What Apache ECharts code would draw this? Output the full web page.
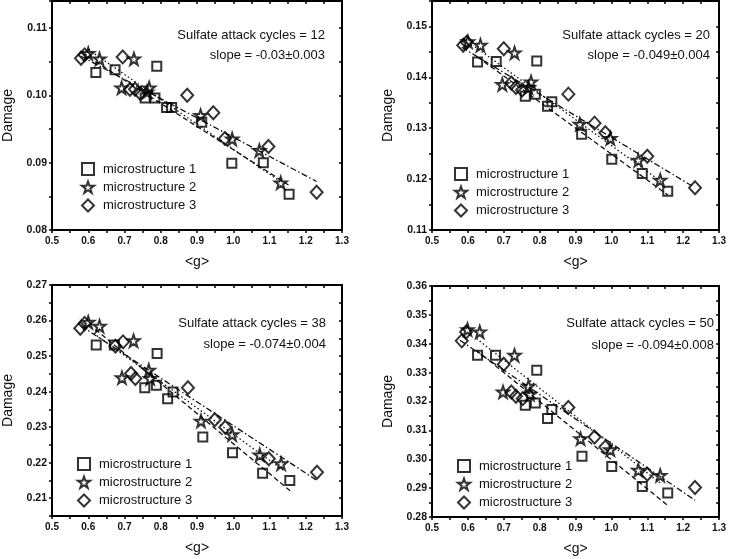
<!DOCTYPE html>
<html><head><meta charset="utf-8">
<script src="https://cdn.jsdelivr.net/npm/echarts@6/dist/echarts.min.js"></script>
<style>html,body{margin:0;padding:0;background:#fff}#c{width:729px;height:559px}</style>
</head><body><div id="c"></div>
<script>
// ---------- data ----------
const cycles = [12, 20, 38, 50];
const slopeTexts = ['-0.03\u00b10.003', '-0.049\u00b10.004', '-0.074\u00b10.004', '-0.094\u00b10.008'];
const seriesNames = ['microstructure 1', 'microstructure 2', 'microstructure 3'];
const xMin = 0.5, xMax = 1.3;
const yMins = [0.08, 0.11, 0.205, 0.28];
const yMaxs = [0.114, 0.155, 0.27, 0.36];

const p1_ms1 = [[0.621,0.1034],[0.674,0.1038],[0.789,0.1043],[0.757,0.0996],[0.784,0.0996],[0.816,0.0982],[0.830,0.0982],[0.913,0.0960],[0.996,0.0899],[1.083,0.0900],[1.154,0.0853]];
const p1_ms2 = [[0.600,0.1062],[0.631,0.1054],[0.726,0.1054],[0.692,0.1011],[0.768,0.1011],[0.762,0.1005],[0.910,0.0970],[0.997,0.0935],[1.072,0.0918],[1.131,0.0870]];
const p1_ms3 = [[0.580,0.1055],[0.590,0.1060],[0.695,0.1057],[0.715,0.1009],[0.729,0.1009],[0.743,0.1003],[0.873,0.1000],[0.945,0.0974],[0.977,0.0936],[1.097,0.0924],[1.230,0.0856]];
const p1_fit1 = [[0.62,0.1050],[1.155,0.0866]];
const p1_fit2 = [[0.60,0.1068],[1.13,0.0872]];
const p1_fit3 = [[0.58,0.1058],[1.23,0.0872]];

const p2_ms1 = [[0.627,0.1430],[0.679,0.1431],[0.792,0.1432],[0.760,0.1363],[0.788,0.1367],[0.822,0.1343],[0.834,0.1352],[0.917,0.1288],[1.001,0.1239],[1.086,0.1211],[1.157,0.1176]];
const p2_ms2 = [[0.600,0.1470],[0.635,0.1463],[0.730,0.1448],[0.696,0.1386],[0.776,0.1391],[0.769,0.1380],[0.912,0.1308],[0.997,0.1280],[1.075,0.1237],[1.136,0.1198]];
const p2_ms3 = [[0.587,0.1463],[0.597,0.1469],[0.700,0.1456],[0.721,0.1389],[0.734,0.1380],[0.751,0.1375],[0.880,0.1367],[0.953,0.1310],[0.983,0.1291],[1.100,0.1245],[1.233,0.1183]];
const p2_fit1 = [[0.627,0.1440],[1.157,0.1169]];
const p2_fit2 = [[0.62,0.1460],[1.139,0.1195]];
const p2_fit3 = [[0.583,0.1459],[1.226,0.1186]];

const p3_ms1 = [[0.622,0.2531],[0.672,0.2531],[0.790,0.2507],[0.756,0.2411],[0.788,0.2418],[0.819,0.2380],[0.834,0.2399],[0.916,0.2272],[0.998,0.2228],[1.081,0.2170],[1.156,0.2150]];
const p3_ms2 = [[0.600,0.2595],[0.631,0.2584],[0.725,0.2543],[0.693,0.2439],[0.767,0.2460],[0.771,0.2437],[0.911,0.2317],[0.997,0.2279],[1.073,0.2222],[1.132,0.2197]];
const p3_ms3 = [[0.578,0.2578],[0.590,0.2592],[0.675,0.2528],[0.696,0.2540],[0.718,0.2451],[0.730,0.2437],[0.875,0.2411],[0.949,0.2321],[0.978,0.2300],[1.098,0.2211],[1.231,0.2173]];
const p3_fit1 = [[0.62,0.2575],[1.157,0.2121]];
const p3_fit2 = [[0.615,0.2564],[1.139,0.2178]];
const p3_fit3 = [[0.58,0.2585],[1.231,0.2150]];

const p4_ms1 = [[0.627,0.3360],[0.677,0.3360],[0.792,0.3308],[0.760,0.3187],[0.788,0.3195],[0.822,0.3141],[0.834,0.3172],[0.918,0.3010],[1.001,0.2975],[1.086,0.2906],[1.157,0.2883]];
const p4_ms2 = [[0.599,0.3449],[0.633,0.3441],[0.730,0.3360],[0.698,0.3233],[0.769,0.3253],[0.773,0.3225],[0.914,0.3071],[0.997,0.3033],[1.075,0.2962],[1.136,0.2944]];
const p4_ms3 = [[0.583,0.3410],[0.595,0.3441],[0.700,0.3329],[0.721,0.3233],[0.734,0.3218],[0.753,0.3210],[0.880,0.3179],[0.953,0.3077],[0.983,0.3042],[1.100,0.2948],[1.233,0.2902]];
const p4_fit1 = [[0.624,0.3377],[1.157,0.2840]];
const p4_fit2 = [[0.624,0.3418],[1.139,0.2915]];
const p4_fit3 = [[0.578,0.3412],[1.233,0.2858]];

// ---------- layout / style ----------
const panelData = [
  [p1_ms1, p1_ms2, p1_ms3, p1_fit1, p1_fit2, p1_fit3],
  [p2_ms1, p2_ms2, p2_ms3, p2_fit1, p2_fit2, p2_fit3],
  [p3_ms1, p3_ms2, p3_ms3, p3_fit1, p3_fit2, p3_fit3],
  [p4_ms1, p4_ms2, p4_ms3, p4_fit1, p4_fit2, p4_fit3]
];
const grids = [
  {left: 52, top: 1, width: 290, height: 229},
  {left: 432, top: 1, width: 290, height: 229},
  {left: 52, top: 285, width: 290, height: 231},
  {left: 432, top: 286, width: 290, height: 231}
];
const annot = [
  {x: 325, y1: 35, y2: 55},
  {x: 710, y1: 35, y2: 55},
  {x: 326, y1: 323, y2: 344},
  {x: 714, y1: 323, y2: 345}
];
const legendPos = [
  {left: 81, top: 162},
  {left: 454, top: 167},
  {left: 77, top: 457},
  {left: 457, top: 459}
];
const FONT = 'Liberation Sans, Arial, sans-serif';
const STAR = 'path://M50,2 L61.5,36 L97,36 L68.5,57.5 L79,92 L50,71 L21,92 L31.5,57.5 L3,36 L38.5,36 Z';
const symbols = [
  {symbol: 'rect', symbolSize: 9},
  {symbol: STAR, symbolSize: 12},
  {symbol: 'diamond', symbolSize: [12, 13]}
];
const dashes = [[5, 3], [1.5, 2.5], [6, 2.5, 1.5, 2.5]];

const yFmt = v => { const r = Math.round(v * 100); return Math.abs(v * 100 - r) < 1e-6 ? (r / 100).toFixed(2) : ''; };
const xFmt = v => { const r = Math.round(v * 10); return Math.abs(v * 10 - r) < 1e-6 ? (r / 10).toFixed(1) : ''; };

const axisLine = {show: true, onZero: false, lineStyle: {color: '#000', width: 2}};
const labelStyle = {color: '#111', fontFamily: FONT, fontWeight: 'bold', fontSize: 10};

const xAxis = [], yAxis = [], series = [], legend = [], graphic = [];
grids.forEach((g, i) => {
  xAxis.push({
    type: 'value', gridIndex: i, position: 'bottom', min: xMin, max: xMax, interval: 0.05,
    axisLine, splitLine: {show: false},
    axisTick: {show: true, inside: false, length: 3, lineStyle: {color: '#000', width: 1.5}},
    axisLabel: Object.assign({formatter: xFmt, margin: 6, showMinLabel: true, showMaxLabel: true}, labelStyle),
    name: '<g>', nameLocation: 'middle', nameGap: 25,
    nameTextStyle: {fontFamily: FONT, fontSize: 14, color: '#111'}
  });
  xAxis.push({
    type: 'value', gridIndex: i, position: 'top', min: xMin, max: xMax, interval: 0.05,
    axisLine, splitLine: {show: false},
    axisTick: {show: true, inside: true, length: 3, lineStyle: {color: '#000', width: 1.5}},
    axisLabel: {show: false}
  });
  yAxis.push({
    type: 'value', gridIndex: i, position: 'left', min: yMins[i], max: yMaxs[i], interval: 0.005,
    axisLine, splitLine: {show: false},
    axisTick: {show: true, inside: false, length: 3, lineStyle: {color: '#000', width: 1.5}},
    axisLabel: Object.assign({formatter: yFmt, margin: 5, showMinLabel: true, showMaxLabel: true}, labelStyle, {fontSize: 10.5}),
    name: 'Damage', nameLocation: 'middle', nameGap: 37,
    nameTextStyle: {fontFamily: FONT, fontSize: 14, color: '#111'}
  });
  yAxis.push({
    type: 'value', gridIndex: i, position: 'right', min: yMins[i], max: yMaxs[i], interval: 0.005,
    axisLine, splitLine: {show: false},
    axisTick: {show: true, inside: true, length: 3, lineStyle: {color: '#000', width: 1.5}},
    axisLabel: {show: false}
  });
  const d = panelData[i];
  for (let k = 0; k < 3; k++) {
    series.push({
      type: 'line', name: 'fit ' + (k + 1), xAxisIndex: 2 * i, yAxisIndex: 2 * i,
      data: d[3 + k], showSymbol: false, symbol: 'none', silent: true, z: 1,
      lineStyle: {color: '#111', width: 1.3, type: dashes[k]}
    });
  }
  for (let k = 0; k < 3; k++) {
    series.push({
      type: 'scatter', name: seriesNames[k], xAxisIndex: 2 * i, yAxisIndex: 2 * i,
      data: d[k], symbol: symbols[k].symbol, symbolSize: symbols[k].symbolSize, z: 3,
      itemStyle: {color: 'rgba(255,255,255,0)', borderColor: '#000', borderWidth: 2}
    });
  }
  legend.push({
    orient: 'vertical', left: legendPos[i].left, top: legendPos[i].top,
    data: seriesNames, itemWidth: 12, itemHeight: 12, itemGap: 4.5, padding: 0,
    selectedMode: false,
    textStyle: {fontFamily: FONT, fontSize: 13, color: '#111', padding: [0, 0, 0, 4]}
  });
  graphic.push({
    type: 'text', x: annot[i].x, y: annot[i].y1,
    style: {text: 'Sulfate attack cycles = ' + cycles[i], font: '13px ' + FONT, fill: '#111', align: 'right', verticalAlign: 'middle'}
  });
  graphic.push({
    type: 'text', x: annot[i].x, y: annot[i].y2,
    style: {text: 'slope = ' + slopeTexts[i], font: '13px ' + FONT, fill: '#111', align: 'right', verticalAlign: 'middle'}
  });
});

const chart = echarts.init(document.getElementById('c'), null, {renderer: 'canvas'});
chart.setOption({
  animation: false,
  backgroundColor: '#fff',
  grid: grids.map(g => Object.assign({containLabel: false}, g)),
  xAxis, yAxis, series, legend, graphic
});
</script>
</body></html>
